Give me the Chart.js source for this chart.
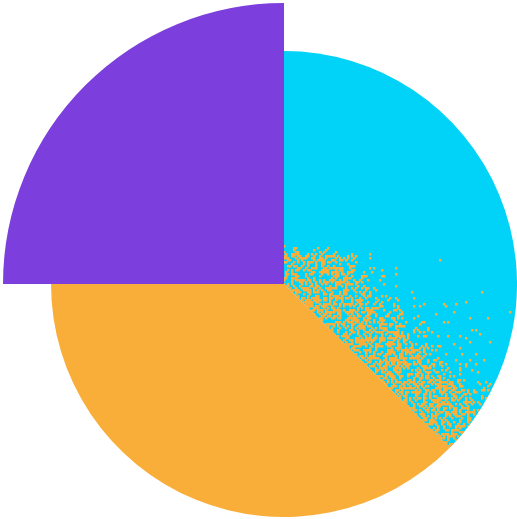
<!DOCTYPE html>
<html>
<head>
<meta charset="utf-8">
<script src="https://cdn.jsdelivr.net/npm/chart.js@4.4.1/dist/chart.umd.min.js"></script>
<style>
  html, body { margin: 0; padding: 0; background: #ffffff; }
  #wrap { width: 517px; height: 519px; position: relative; }
</style>
</head>
<body>
<div id="wrap"><canvas id="c"></canvas></div>
<script>
const categories = ['Segment A', 'Segment B', 'Segment C'];
const values = [37.4, 37.6, 25];
const colors = ['#00d3f7', '#f9ae3a', '#7c3fdd'];

// enlarge the highlighted (last) slice's radius
const enlargePlugin = {
  id: 'enlarge',
  afterDatasetUpdate(chart, args, opts) {
    const el = args.meta.data[opts.index];
    if (el) el.outerRadius = el.outerRadius * opts.scale;
  }
};

// grainy dissolve texture of the second slice's colour over the first slice
const grainPlugin = {
  id: 'grain',
  afterDatasetsDraw(chart, args, opts) {
    const meta = chart.getDatasetMeta(0);
    const arc = meta.data[0];
    if (!arc) return;
    const ctx = chart.ctx;
    const cx = arc.x, cy = arc.y, R = arc.outerRadius;
    const s = arc.startAngle, e = arc.endAngle;
    ctx.save();
    ctx.beginPath();
    ctx.moveTo(cx, cy);
    ctx.arc(cx, cy, R, s, e);
    ctx.closePath();
    ctx.clip();
    ctx.fillStyle = opts.color;
    const ce = Math.cos(e), se = Math.sin(e);
    const hash = (x, y) => {
      let h = (Math.imul(x + 1013, 73856093) ^ Math.imul(y + 7919, 19349663)) | 0;
      h ^= h >>> 16;
      h = Math.imul(h, 0x85ebca6b);
      h ^= h >>> 13;
      h = Math.imul(h, 0xc2b2ae35);
      h ^= h >>> 16;
      return (h >>> 0) / 4294967296;
    };
    const step = 2;
    const topCut = opts.topCut * R;
    for (let gy = 0; gy * step < 2 * R; gy++) {
      for (let gx = 0; gx * step < 2 * R; gx++) {
        const px = Math.floor(cx - R) + gx * step, py = Math.floor(cy - R) + gy * step;
        const dx = px - cx, dy = py - cy;
        const r = Math.hypot(dx, dy);
        if (r > R) continue;
        const d = dx * se - dy * ce;   // distance away from the slice boundary
        const t = dx * ce + dy * se;   // distance along the slice boundary
        if (d < -2) continue;
        const edge = Math.min(1, Math.max(0, (dy + topCut) / 12));
        if (edge <= 0) continue;
        const W = opts.plateau + Math.max(0, 60 - t) * 0.3;
        const p = (d < W ? 1 : Math.exp(-(d - W) / opts.falloff)) * opts.strength * edge;
        if (hash(gx, gy) < p) ctx.fillRect(px, py, 2.5, 2.5);
      }
    }
    ctx.restore();
  }
};

new Chart(document.getElementById('c'), {
  type: 'pie',
  data: {
    labels: categories,
    datasets: [{
      data: values,
      backgroundColor: colors,
      borderWidth: 0,
      hoverOffset: 0,
      offset: 0,
      clip: false
    }]
  },
  options: {
    responsive: true,
    maintainAspectRatio: false,
    animation: false,
    events: [],
    layout: { padding: { left: 51, top: 51, right: 0, bottom: 2 } },
    plugins: {
      legend: { display: false },
      tooltip: { enabled: false },
      enlarge: { index: 2, scale: 1.206 },
      grain: { color: '#f9ae3a', strength: 0.45, plateau: 40, falloff: 17, topCut: 0.17 }
    }
  },
  plugins: [enlargePlugin, grainPlugin]
});
</script>
</body>
</html>
